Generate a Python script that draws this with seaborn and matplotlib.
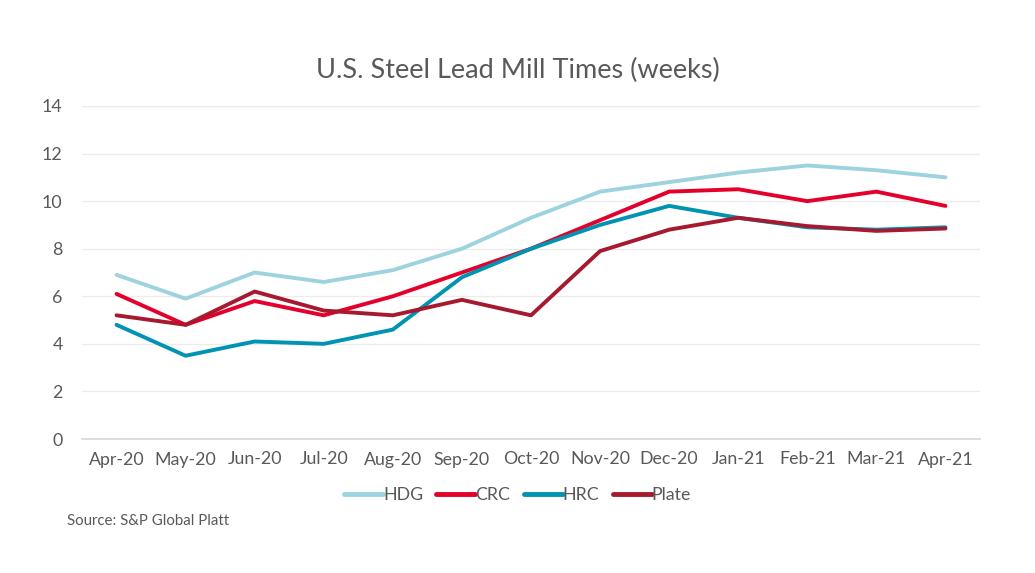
import numpy as np
import pandas as pd
import matplotlib
matplotlib.use("Agg")
import matplotlib.pyplot as plt
import seaborn as sns

months = ["Apr-20", "May-20", "Jun-20", "Jul-20", "Aug-20", "Sep-20", "Oct-20",
          "Nov-20", "Dec-20", "Jan-21", "Feb-21", "Mar-21", "Apr-21"]
hdg = [6.9, 5.9, 7.0, 6.6, 7.1, 8.0, 9.3, 10.4, 10.8, 11.2, 11.5, 11.3, 11.0]
crc = [6.1, 4.8, 5.8, 5.2, 6.0, 7.0, 8.0, 9.2, 10.4, 10.5, 10.0, 10.4, 9.8]
hrc = [4.8, 3.5, 4.1, 4.0, 4.6, 6.8, 8.0, 9.0, 9.8, 9.3, 8.9, 8.8, 8.9]
plate = [5.2, 4.8, 6.2, 5.4, 5.2, 5.85, 5.2, 7.9, 8.8, 9.3, 8.95, 8.75, 8.85]

series = ["HDG", "CRC", "HRC", "Plate"]
colors = ["#9dd3de", "#e4002b", "#0093b2", "#a6192e"]

df = pd.DataFrame({
    "month": months * 4,
    "pos": list(range(len(months))) * 4,
    "weeks": hdg + crc + hrc + plate,
    "series": [s for s in series for _ in months],
})

sns.set_theme(style="white")
plt.rcParams["font.family"] = ["Lato", "DejaVu Sans"]
text_color = "#595959"

fig = plt.figure(figsize=(10.35, 5.73), dpi=100)
ax = fig.add_axes([82 / 1035, 1 - 439 / 573, (980 - 82) / 1035, (439 - 106) / 573])

sns.lineplot(data=df, x="pos", y="weeks", hue="series", hue_order=series,
             palette=colors, linewidth=2.8, ax=ax, legend=False)

ax.set_xlim(-0.5, len(months) - 0.5)
ax.set_ylim(0, 14)
ax.set_yticks(np.arange(0, 15, 2))
ax.set_xticks(range(len(months)))
ax.set_xticklabels(months)
ax.set_xticks(np.arange(-0.5, len(months), 1), minor=True)
ax.tick_params(axis="x", which="major", length=0, pad=9, labelsize=12.8, labelcolor=text_color)
ax.tick_params(axis="x", which="minor", length=6, color="#d9d9d9", width=1)
ax.tick_params(axis="y", length=0, pad=14, labelsize=12.8, labelcolor=text_color)
ax.grid(axis="y", color="#ececec", linewidth=1)
ax.set_axisbelow(True)
for side in ["top", "right", "left"]:
    ax.spines[side].set_visible(False)
ax.spines["bottom"].set_color("#d9d9d9")
ax.set_xlabel("")
ax.set_ylabel("")

fig.text(0.5, 1 - 70 / 573, "U.S. Steel Lead Mill Times (weeks)", ha="center", va="center",
         fontsize=19.5, color=text_color)

handles = [plt.Line2D([0], [0], color=c, linewidth=3.5) for c in colors]
fig.legend(handles, series, loc="center", bbox_to_anchor=(0.5, 1 - 495 / 573), ncol=4,
           frameon=False, fontsize=12.8, handlelength=2.2, handletextpad=0.0,
           columnspacing=0.75, labelcolor=text_color)

fig.text(67 / 1035, 1 - 521 / 573, "Source: S&P Global Platt", ha="left", va="center",
         fontsize=10.8, color=text_color)

fig.savefig("out.png", dpi=100)
